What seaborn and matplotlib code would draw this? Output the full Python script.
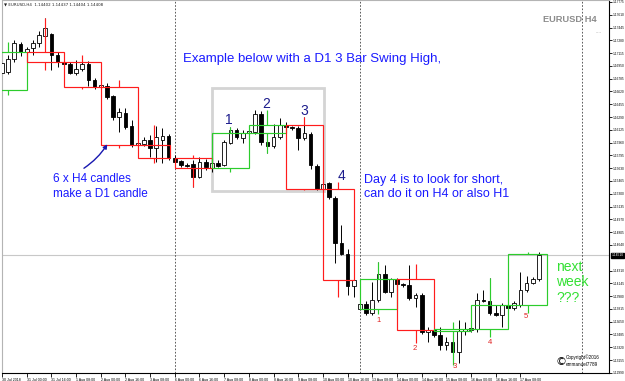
import numpy as np
import pandas as pd
import matplotlib
matplotlib.use("Agg")
import matplotlib.pyplot as plt
from matplotlib.patches import Rectangle, FancyArrowPatch
from matplotlib.transforms import blended_transform_factory
import seaborn as sns

# ---------------- H4 candles, 30 Jul 08:00 -> 17 Aug 20:00 ----------------
opens = [1.1686, 1.1687, 1.1704, 1.1723, 1.1713, 1.1718, 1.1725, 1.1734, 1.1736, 1.1709,
         1.1700, 1.1697, 1.1686, 1.1691, 1.1697, 1.1677, 1.1668, 1.1669, 1.1656, 1.1629,
         1.1634, 1.1617, 1.1593, 1.1594, 1.1599, 1.1589, 1.1599, 1.1605, 1.1576, 1.1572,
         1.1567, 1.1568, 1.1552, 1.1571, 1.1563, 1.1570, 1.1567, 1.1596, 1.1612, 1.1602,
         1.1608, 1.1610, 1.1633, 1.1597, 1.1592, 1.1603, 1.1619, 1.1616, 1.1615, 1.1602,
         1.1607, 1.1566, 1.1536, 1.1544, 1.1525, 1.1467, 1.1452, 1.1411, 1.1381, 1.1388,
         1.1376, 1.1393, 1.1427, 1.1403, 1.1420, 1.1414, 1.1412, 1.1396, 1.1399, 1.1352,
         1.1354, 1.1348, 1.1335, 1.1339, 1.1326, 1.1353, 1.1354, 1.1356, 1.1393, 1.1392,
         1.1376, 1.1374, 1.1387, 1.1383, 1.1387, 1.1406, 1.1415, 1.1420]
highs = [1.1700, 1.1709, 1.1728, 1.1726, 1.1719, 1.1728, 1.1740, 1.1757, 1.1737, 1.1713,
         1.1703, 1.1700, 1.1703, 1.1708, 1.1701, 1.1679, 1.1673, 1.1673, 1.1657, 1.1641,
         1.1641, 1.1625, 1.1599, 1.1603, 1.1606, 1.1617, 1.1615, 1.1607, 1.1580, 1.1574,
         1.1570, 1.1574, 1.1578, 1.1575, 1.1574, 1.1574, 1.1599, 1.1616, 1.1615, 1.1612,
         1.1614, 1.1638, 1.1637, 1.1601, 1.1620, 1.1628, 1.1623, 1.1617, 1.1617, 1.1629,
         1.1610, 1.1568, 1.1545, 1.1545, 1.1527, 1.1490, 1.1459, 1.1421, 1.1390, 1.1392,
         1.1416, 1.1442, 1.1438, 1.1421, 1.1421, 1.1415, 1.1438, 1.1402, 1.1402, 1.1358,
         1.1357, 1.1358, 1.1345, 1.1341, 1.1367, 1.1365, 1.1365, 1.1402, 1.1406, 1.1421,
         1.1387, 1.1389, 1.1388, 1.1392, 1.1429, 1.1424, 1.1423, 1.1455]
lows = [1.1656, 1.1685, 1.1700, 1.1708, 1.1708, 1.1709, 1.1719, 1.1728, 1.1690, 1.1694,
        1.1695, 1.1685, 1.1683, 1.1688, 1.1669, 1.1665, 1.1665, 1.1652, 1.1625, 1.1610,
        1.1614, 1.1590, 1.1590, 1.1592, 1.1578, 1.1571, 1.1570, 1.1574, 1.1568, 1.1565,
        1.1565, 1.1539, 1.1550, 1.1561, 1.1558, 1.1565, 1.1566, 1.1594, 1.1601, 1.1596,
        1.1606, 1.1607, 1.1593, 1.1583, 1.1589, 1.1601, 1.1615, 1.1612, 1.1587, 1.1599,
        1.1562, 1.1535, 1.1535, 1.1523, 1.1441, 1.1451, 1.1399, 1.1397, 1.1380, 1.1374,
        1.1374, 1.1390, 1.1402, 1.1397, 1.1412, 1.1410, 1.1393, 1.1384, 1.1349, 1.1339,
        1.1345, 1.1329, 1.1329, 1.1310, 1.1312, 1.1348, 1.1352, 1.1352, 1.1390, 1.1374,
        1.1372, 1.1358, 1.1381, 1.1380, 1.1384, 1.1403, 1.1414, 1.1418]
closes = [1.1699, 1.1704, 1.1725, 1.1713, 1.1717, 1.1725, 1.1735, 1.1744, 1.1709, 1.1700,
          1.1697, 1.1686, 1.1691, 1.1697, 1.1677, 1.1668, 1.1670, 1.1655, 1.1629, 1.1636,
          1.1616, 1.1593, 1.1596, 1.1599, 1.1589, 1.1603, 1.1605, 1.1576, 1.1571, 1.1567,
          1.1566, 1.1552, 1.1571, 1.1565, 1.1570, 1.1566, 1.1597, 1.1612, 1.1603, 1.1608,
          1.1611, 1.1633, 1.1597, 1.1592, 1.1603, 1.1619, 1.1616, 1.1615, 1.1602, 1.1608,
          1.1567, 1.1536, 1.1543, 1.1526, 1.1467, 1.1452, 1.1411, 1.1419, 1.1388, 1.1376,
          1.1393, 1.1427, 1.1403, 1.1420, 1.1414, 1.1412, 1.1396, 1.1399, 1.1352, 1.1354,
          1.1348, 1.1335, 1.1339, 1.1326, 1.1353, 1.1356, 1.1357, 1.1393, 1.1392, 1.1376,
          1.1374, 1.1387, 1.1383, 1.1389, 1.1406, 1.1415, 1.1420, 1.1451]

# ---------------- D1 candles drawn as boxes ----------------
day_start = [-2, 4, 10, 16, 22, 28, 34, 40, 46, 52, 58, 64, 70, 76, 82]
day_len = [6, 6, 6, 6, 5.3, 6, 6, 6, 6, 5, 6, 6, 6, 6, 6.3]
day_open = [1.1664, 1.1713, 1.1700, 1.1668, 1.1593, 1.1576, 1.1563, 1.1608, 1.1619, 1.1536,
            1.1381, 1.1420, 1.1353, 1.1356, 1.1387]
day_high = [1.1726, 1.1757, 1.1709, 1.1677, 1.1619, 1.1580, 1.1616, 1.1638, 1.1629, 1.1545,
            1.1442, 1.1439, 1.1365, 1.1421, 1.1455]
day_low = [1.1657, 1.1690, 1.1665, 1.1589, 1.1570, 1.1539, 1.1558, 1.1583, 1.1535, 1.1397,
           1.1375, 1.1338, 1.1309, 1.1345, 1.1376]
day_close = [1.1713, 1.1700, 1.1668, 1.1593, 1.1576, 1.1563, 1.1608, 1.1619, 1.1536, 1.1419,
             1.1420, 1.1354, 1.1356, 1.1387, 1.1452]

# ---------------- axes labels ----------------
date_ticks = [0, 4, 8, 12, 16, 20, 24, 28, 32, 36, 40, 44, 48, 52, 56, 60, 64, 68, 72, 76, 80, 84]
date_labels = ["30 Jul 2018", "31 Jul 00:00", "31 Jul 16:00", "1 Aug 08:00", "2 Aug 00:00",
               "2 Aug 16:00", "3 Aug 08:00", "6 Aug 00:00", "6 Aug 16:00", "7 Aug 08:00",
               "8 Aug 00:00", "8 Aug 16:00", "9 Aug 08:00", "10 Aug 00:00", "10 Aug 16:00",
               "13 Aug 08:00", "14 Aug 00:00", "14 Aug 16:00", "15 Aug 08:00", "16 Aug 00:00",
               "16 Aug 16:00", "17 Aug 08:00"]
price_ticks = [1.17775, 1.17610, 1.17445, 1.17280, 1.17115, 1.16950, 1.16785, 1.16620,
               1.16455, 1.16290, 1.16125, 1.15960, 1.15795, 1.15630, 1.15465, 1.15300,
               1.15135, 1.14970, 1.14805, 1.14640, 1.14310, 1.14145, 1.13980,
               1.13815, 1.13650, 1.13485, 1.13320, 1.13155, 1.12990]
separators = [28, 58, 94]

# ---------------- styling ----------------
sns.set_theme(style="white")
plt.rcParams["font.family"] = ["Liberation Sans", "DejaVu Sans"]

W, H = 625, 381
fig = plt.figure(figsize=(W / 100, H / 100), dpi=100)
ax = fig.add_axes([2 / W, (H - 373) / H, (609 - 2) / W, 373 / H])
ax.set_facecolor("white")


def fx(x):
    return x / W


def fy(y):
    return 1 - y / H


RED = "#ff1c1c"
GREEN = "#2ccc2c"
BLUE = "#1a1aff"
NAVY = "#1c1c8c"
TICK_FS = 2.6
YTICK_FS = 2.35

df = pd.DataFrame({"k": np.arange(len(opens)), "open": opens, "high": highs,
                   "low": lows, "close": closes})
bull = df["close"] >= df["open"]

# bid line (seaborn)
bid = closes[-1]
sns.lineplot(x=[-5, 120], y=[bid, bid], ax=ax, color="#c8c8c8", lw=0.8, zorder=1)

# period separators
for s in separators:
    ax.axvline(s, color="#404040", lw=0.6, ls=(0, (2, 2)), zorder=1)

# highlight rectangle
ax.add_patch(Rectangle((34.0, 1.1534), 18.1, 0.0133, fill=False,
                       edgecolor="#d4d4d4", lw=2.0, zorder=1.5))

# D1 boxes
for s, ln, o, h, l, c in zip(day_start, day_len, day_open, day_high, day_low, day_close):
    col = GREEN if c >= o else RED
    lo, hi = min(o, c), max(o, c)
    ax.add_patch(Rectangle((s, lo), ln, hi - lo, fill=False, edgecolor=col,
                           lw=0.85, zorder=4))
    mid = s + ln / 2
    ax.vlines(mid, hi, h, color=col, lw=0.85, zorder=4)
    ax.vlines(mid, l, lo, color=col, lw=0.85, zorder=4)

# H4 candles
ax.vlines(df["k"], df["low"], df["high"], color="black", lw=0.7, zorder=2)
body = (df["close"] - df["open"]).abs().clip(lower=0.00004)
bottom = np.minimum(df["open"], df["close"])
ax.bar(df["k"], body, bottom=bottom, width=0.6,
       color=np.where(bull, "white", "black"), edgecolor="black", lw=0.6, zorder=3)

ax.set_xlim(0.28, 98.35)
ax.set_ylim(1.12988, 1.1780)

# axes / ticks
ax.yaxis.tick_right()
ax.set_yticks(price_ticks)
ax.set_yticklabels([f"{v:.5f}" for v in price_ticks])
ax.set_xticks(date_ticks)
ax.set_xticklabels(date_labels)
for lab in ax.get_xticklabels():
    lab.set_ha("left")
ax.tick_params(axis="y", right=True, length=2.0, width=0.6, labelsize=YTICK_FS, pad=0.6,
               colors="black")
ax.tick_params(axis="x", bottom=True, length=3.0, width=0.6, labelsize=TICK_FS, pad=0.3,
               colors="black")
for side in ["top", "left"]:
    ax.spines[side].set_color("#b4b4b4")
    ax.spines[side].set_linewidth(0.8)
for side in ["right", "bottom"]:
    ax.spines[side].set_color("black")
    ax.spines[side].set_linewidth(0.8)
ax.grid(False)

# bid label on the price axis
tr = blended_transform_factory(ax.transAxes, ax.transData)
ax.text(1.0045, bid, f"{bid:.5f}", transform=tr, fontsize=YTICK_FS, color="white",
        va="center", ha="left", clip_on=False, zorder=6,
        bbox=dict(boxstyle="square,pad=0.15", fc="black", ec="black"))

# header texts
fig.text(fx(4), fy(4.5), "▼ EURUSD,H4  1.14402 1.14437 1.14404 1.14408", fontsize=2.9,
         color="#202020", va="center", ha="left", family=["DejaVu Sans"])
fig.text(fx(543), fy(20), "EURUSD H4", fontsize=6.7, fontweight="bold", color="#8c8c8c",
         va="center", ha="left")
fig.text(fx(595), fy(33), "····", fontsize=3.5, color="#909090", va="center", ha="left")

# annotations
fig.text(fx(183), fy(62), "Example below with a D1 3 Bar Swing High,", fontsize=9.5,
         color=BLUE, va="baseline", ha="left")
fig.text(fx(53), fy(182), "6 x H4 candles", fontsize=8.5, color=BLUE, va="baseline")
fig.text(fx(53), fy(197), "make a D1 candle", fontsize=8.5, color=BLUE, va="baseline")
fig.text(fx(364), fy(183), "Day 4 is to look for short,", fontsize=9, color=BLUE,
         va="baseline")
fig.text(fx(364), fy(197), "can do it on H4 or also H1", fontsize=9, color=BLUE,
         va="baseline")
fig.text(fx(556), fy(271), "next", fontsize=10, color="#33e033", va="baseline")
fig.text(fx(556), fy(286), "week", fontsize=10, color="#33e033", va="baseline")
fig.text(fx(556), fy(302), "???", fontsize=10, color="#33e033", va="baseline")

for t, (x, y) in zip(["1", "2", "3", "4"], [(229, 120), (266, 104), (304, 111), (341, 176)]):
    fig.text(fx(x), fy(y), t, fontsize=10, color=NAVY, ha="center", va="center")
for t, (x, y) in zip(["1", "2", "3", "4", "5"],
                     [(379, 321), (415, 348), (455, 367), (490, 342), (526, 317)]):
    fig.text(fx(x), fy(y), t, fontsize=5.5, color="#e02020", ha="center", va="center")

# arrow "6 x H4 candles" -> D1 box
arrow = FancyArrowPatch((12.9, 1.1561), (17.3, 1.1597), arrowstyle="-|>",
                        mutation_scale=6, color="#1818b0", lw=1.0,
                        connectionstyle="arc3,rad=0.12", zorder=5)
ax.add_patch(arrow)

# copyright
fig.text(fx(561), fy(362), "©", fontsize=8, color="black", ha="center", va="center",
         family=["DejaVu Sans"])
fig.text(fx(566), fy(357), "Copyright©2016", fontsize=3.3, color="black", va="center")
fig.text(fx(566), fy(365), "emmanuel7789", fontsize=3.3, color="black", va="center")

fig.savefig("out.png", dpi=100)
